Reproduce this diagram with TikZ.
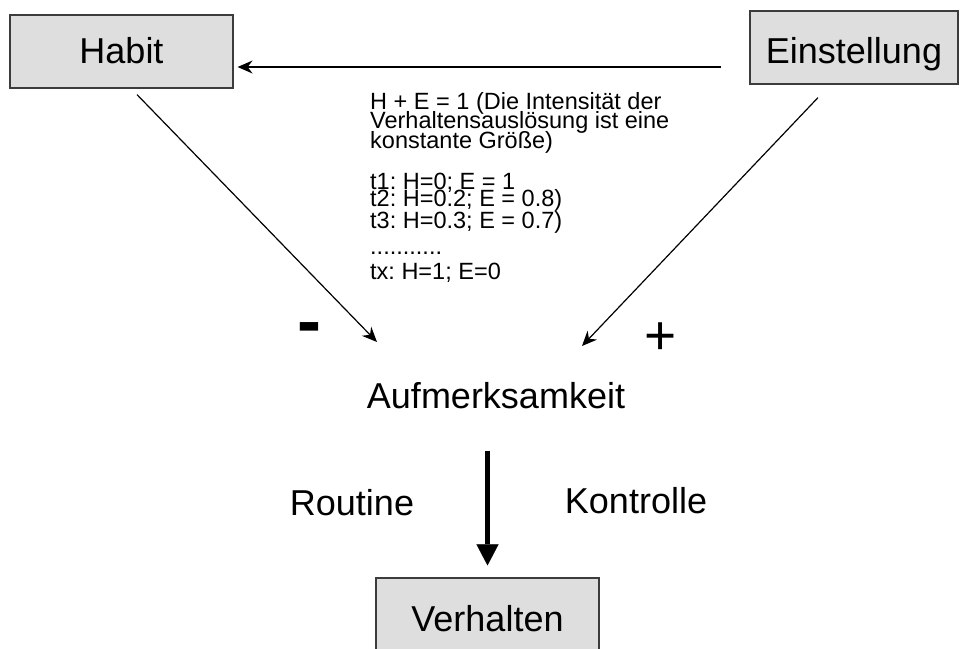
\documentclass[tikz,border=0pt]{standalone}
\usepackage{fontspec}
\setmainfont{Liberation Sans}
\usepackage{xcolor}
\definecolor{boxFill}{HTML}{DEDEDE}
\definecolor{boxLine}{HTML}{3C3C3C}
\usepackage{tikz}
\usetikzlibrary{arrows.meta, positioning, calc}
\frenchspacing
\newcommand{\noteFont}{\fontsize{23.5}{19.3}\selectfont\lineskiplimit=-50pt\relax}

\begin{document}
\begin{tikzpicture}[
        x=1pt, y=-1pt,
        boxNode/.style={
            draw=boxLine,
            fill=boxFill,
            line width=1.2pt,
            minimum height=73pt,
            minimum width=223pt,
            inner sep=0pt,
            font=\fontsize{36}{40}\selectfont,
            text height=26pt,
            text depth=3pt
        },
        labelText/.style={
            inner sep=0pt,
            font=\fontsize{36}{40}\selectfont
        },
        noteText/.style={
            inner sep=0pt,
            align=left,
            font=\noteFont
        },
        thinArrow/.style={
            -{Stealth[length=15pt, width=13pt, inset=5pt]},
            line width=1.2pt
        },
        thickArrow/.style={
            -{Triangle[length=21pt, width=22pt, line width=0.1pt]},
            line width=5pt
        }
    ]
    \useasboundingbox (0,0) rectangle (961,648);

    \node[boxNode] (habit) at (121.5, 51.5) {Habit};
    \node[boxNode, minimum width=208pt, text height=31pt, text depth=0pt] (einstellung) at (854, 47.5) {Einstellung};
    \node[boxNode, text height=33pt, text depth=0pt] (verhalten) at (487.5, 614.5) {Verhalten};
    \node[labelText, anchor=base] (aufmerksamkeit) at (496, 408) {Aufmerksamkeit};

    % Note between the two boxes (base = last line)
    \node[noteText, anchor=base west] (note) at (370, 148)
        {H + E = 1 (Die Intensität der\\ Verhaltensauslösung ist eine\\ konstante Größe)};
    \node[noteText, anchor=base west] (series) at (370, 279)
        {t1: H=0; E = 1\\[-2.3pt] t2: H=0.2; E = 0.8)\\[2.7pt] t3: H=0.3; E = 0.7)\\[6.7pt] ...........\\[5.7pt] tx: H=1; E=0};

    % Top arrow: Einstellung -> Habit
    \draw[thinArrow] ([xshift=-28pt, yshift=-19.5pt]einstellung.west) -- ([xshift=4pt, yshift=-15.5pt]habit.east);

    % Diagonal arrows into Aufmerksamkeit
    \coordinate (minusTip) at (377, 342);
    \coordinate (plusTip) at (582, 346);
    \draw[thinArrow] ([xshift=15.5pt, yshift=-6pt]habit.south) -- (minusTip);
    \draw[thinArrow] ([xshift=-36pt, yshift=-13pt]einstellung.south) -- (plusTip);
    \node[font=\fontsize{72}{72}\selectfont\bfseries, inner sep=0pt, anchor=base] (minusSign) at (309.5, 345) {-};
    \node[font=\fontsize{55}{55}\selectfont, inner sep=0pt, anchor=base] (plusSign) at (661, 354) {+};

    % Bottom arrow: Aufmerksamkeit -> Verhalten
    \draw[thickArrow, shorten <=42pt, shorten >=12pt] (aufmerksamkeit.south -| verhalten.north) -- (verhalten.north);
    \node[labelText, anchor=base] (routine) at (352, 515) {Routine};
    \node[labelText, anchor=base] (kontrolle) at (636, 513) {Kontrolle};

    \end{tikzpicture}
\end{document}
